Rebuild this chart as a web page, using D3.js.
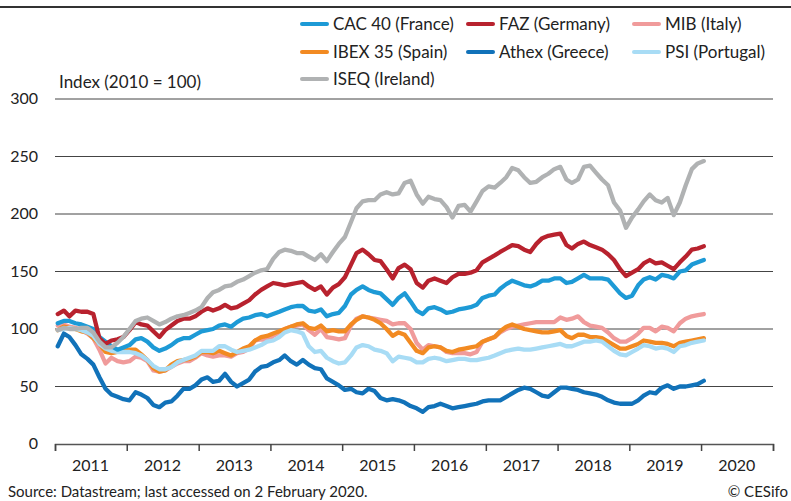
<!DOCTYPE html>
<html>
<head>
<meta charset="utf-8">
<script src="https://cdn.jsdelivr.net/npm/d3@7"></script>
<style>
  body { margin: 0; background: #fff; }
  svg { display: block; font-family: "Lato", "Source Sans Pro", sans-serif; }
</style>
</head>
<body>
<div id="chart"></div>
<script>
// monthly closing values, Jan 2011 .. Jan 2020 (index, 2010 = 100)
var cac40 = [105,107,107,105,104,102,100,93,89,85,82,84,86,91,92,89,84,81,83,86,90,92,92,95,98,99,100,103,104,102,106,109,110,112,113,111,113,115,117,119,120,120,116,115,117,111,113,114,120,130,134,137,134,132,131,126,121,127,131,124,116,113,118,119,117,114,115,117,118,119,121,127,129,130,135,139,142,140,138,137,139,142,142,144,144,140,141,144,147,144,144,144,143,137,131,127,129,138,143,145,143,147,146,144,150,151,156,158,160];
var faz = [113,116,111,116,115,115,113,92,87,90,91,93,99,106,104,103,98,93,99,103,107,109,109,111,115,118,116,118,121,118,119,122,125,130,134,137,140,139,138,139,140,141,137,134,137,130,136,139,145,156,166,169,165,160,159,152,144,153,156,152,140,136,142,144,142,140,145,148,148,149,151,158,161,164,167,170,173,172,169,167,174,179,181,182,183,173,170,174,176,173,171,169,165,160,152,146,149,152,157,160,157,158,155,152,158,163,169,170,172];
var mib = [103,104,102,101,99,96,92,82,70,75,72,71,72,76,75,72,64,63,64,67,70,72,72,75,79,77,76,77,77,76,79,80,83,90,91,90,94,97,100,102,103,104,99,95,100,93,92,91,92,103,109,111,110,109,108,107,104,105,105,100,88,82,86,85,84,80,79,79,79,78,80,89,91,93,97,100,102,103,104,105,106,106,106,106,110,108,109,111,106,103,102,101,97,92,89,89,92,96,101,101,98,102,101,98,105,109,111,112,113];
var ibex35 = [99,102,101,100,98,97,92,87,80,79,80,81,82,82,78,73,66,63,64,69,72,73,74,76,80,80,79,81,79,77,80,83,85,90,93,94,96,98,100,102,104,105,101,100,103,98,99,98,98,104,108,111,110,108,105,100,94,97,95,88,81,79,84,85,84,81,80,82,83,84,85,89,91,93,98,102,104,102,100,99,98,97,97,98,99,94,92,95,95,93,93,92,89,86,83,83,85,87,90,89,88,88,87,85,88,89,90,91,92];
var athex = [85,96,93,86,78,74,69,58,48,43,41,39,38,45,43,40,34,32,36,37,42,48,48,51,56,58,54,55,61,54,50,53,56,63,67,68,71,73,77,72,69,73,69,66,65,57,54,51,47,48,45,44,48,46,40,38,39,38,36,33,31,28,32,33,35,33,31,32,33,34,35,37,38,38,38,41,44,47,49,48,45,42,41,45,49,49,48,47,45,44,43,41,38,36,35,35,35,38,42,45,44,49,51,48,50,50,51,52,55];
var psi = [99,100,101,100,99,97,94,87,83,81,80,80,80,79,77,73,68,65,65,67,71,73,75,77,81,81,81,85,85,82,80,81,82,84,86,89,90,93,97,99,98,96,85,80,81,75,72,70,71,77,84,86,85,82,81,79,72,76,75,74,71,71,74,75,74,72,73,74,74,73,73,74,75,77,79,81,82,83,82,82,83,84,85,86,87,85,85,87,89,89,90,89,85,81,78,77,80,83,86,85,83,84,83,80,85,86,88,89,90];
var iseq = [99,101,100,100,101,101,97,89,84,84,88,93,100,107,109,110,107,104,106,109,111,112,114,116,119,127,132,134,137,138,141,143,146,149,151,152,161,167,169,168,166,166,163,160,165,159,167,174,180,193,205,211,212,212,217,219,217,218,227,229,217,209,215,213,212,206,197,207,208,202,211,220,224,223,227,232,240,238,232,227,228,232,235,239,241,230,227,230,241,242,236,230,225,210,203,188,197,204,211,217,212,210,214,199,210,225,239,244,246];

var seriesNames = ["CAC 40 (France)", "FAZ (Germany)", "MIB (Italy)", "IBEX 35 (Spain)", "Athex (Greece)", "PSI (Portugal)", "ISEQ (Ireland)"];
var seriesColors = ["#1d9ad6", "#b8222e", "#f09b9b", "#f28a22", "#1172b9", "#a8dcf5", "#b0b2b3"];
var seriesValues = [cac40, faz, mib, ibex35, athex, psi, iseq];
// order lines are painted in (last on top)
var drawOrder = [2, 3, 5, 4, 0, 1, 6];

var yTicks = [0, 50, 100, 150, 200, 250, 300];
var yearLabels = ["2011", "2012", "2013", "2014", "2015", "2016", "2017", "2018", "2019", "2020"];

var W = 791, H = 501;

var svg = d3.select("#chart").append("svg")
	.attr("width", W)
	.attr("height", H);

// x: calendar time, y: index value
var x = d3.scaleTime()
	.domain([new Date(2011, 0, 1), new Date(2021, 0, 1)])
	.range([55, 773]);
var y = d3.scaleLinear().domain([0, 300]).range([444, 99]);

var months = d3.range(cac40.length).map(function(i) { return new Date(2011, i, 15); });

// top rule
svg.append("line")
	.attr("x1", 0).attr("x2", W)
	.attr("y1", 7).attr("y2", 7)
	.attr("stroke", "#333").attr("stroke-width", 2);

// gridlines
svg.append("g")
	.selectAll("line")
	.data(yTicks.filter(function(d) { return d > 0; }))
	.join("line")
	.attr("x1", 55).attr("x2", 773)
	.attr("y1", function(d) { return y(d); })
	.attr("y2", function(d) { return y(d); })
	.attr("stroke", "#444").attr("stroke-width", 1);

// y labels
svg.append("g")
	.selectAll("text")
	.data(yTicks)
	.join("text")
	.attr("x", 38)
	.attr("y", function(d) { return y(d) + 5; })
	.attr("text-anchor", "end")
	.attr("font-size", 16)
	.attr("fill", "#222")
	.text(function(d) { return d; });

// x axis
var xAxis = svg.append("g")
	.attr("transform", "translate(0,444)")
	.call(d3.axisBottom(x).ticks(d3.timeYear.every(1)).tickSize(7).tickFormat(""));
xAxis.select(".domain").attr("stroke", "#555").attr("stroke-width", 1.5);
xAxis.selectAll(".tick line").attr("stroke", "#444").attr("stroke-width", 1.5);

svg.append("g")
	.selectAll("text")
	.data(yearLabels)
	.join("text")
	.attr("x", function(d) { return x(new Date(+d, 6, 1)); })
	.attr("y", 471)
	.attr("text-anchor", "middle")
	.attr("font-size", 16)
	.attr("fill", "#222")
	.text(function(d) { return d; });

svg.append("text")
	.attr("x", 59).attr("y", 88)
	.attr("font-size", 17)
	.attr("fill", "#222")
	.text("Index (2010 = 100)");

// lines
var line = d3.line()
	.x(function(d, i) { return x(months[i]); })
	.y(function(d) { return y(d); });

svg.append("g")
	.selectAll("path")
	.data(drawOrder)
	.join("path")
	.attr("fill", "none")
	.attr("stroke", function(k) { return seriesColors[k]; })
	.attr("stroke-width", 4.3)
	.attr("stroke-linejoin", "round")
	.attr("stroke-linecap", "round")
	.attr("d", function(k) { return line(seriesValues[k]); });

// legend, 3 columns
var legendX = [300, 466, 632];
var legendY = [24, 52, 79];
var legend = svg.append("g")
	.selectAll("g")
	.data(seriesNames)
	.join("g")
	.attr("transform", function(d, i) {
		return "translate(" + legendX[i % 3] + "," + legendY[Math.floor(i / 3)] + ")";
	});
legend.append("line")
	.attr("x1", 2).attr("x2", 27)
	.attr("stroke", function(d, i) { return seriesColors[i]; })
	.attr("stroke-width", 4)
	.attr("stroke-linecap", "round");
legend.append("text")
	.attr("x", 33).attr("y", 6)
	.attr("font-size", 17)
	.attr("fill", "#222")
	.text(function(d) { return d; });

// footer
svg.append("text")
	.attr("x", 8).attr("y", 497)
	.attr("font-size", 15)
	.attr("fill", "#222")
	.text("Source: Datastream; last accessed on 2 February 2020.");
svg.append("text")
	.attr("x", 788).attr("y", 497)
	.attr("text-anchor", "end")
	.attr("font-size", 15)
	.attr("fill", "#222")
	.text("© CESifo");
</script>
</body>
</html>
